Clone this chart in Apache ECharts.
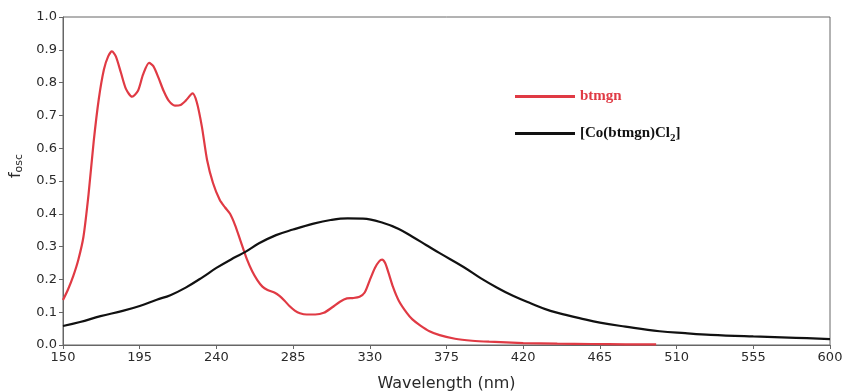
<!DOCTYPE html>
<html>
<head>
<meta charset="utf-8">
<script src="https://cdn.jsdelivr.net/npm/echarts@6/dist/echarts.min.js"></script>
<style>
  html, body { margin: 0; padding: 0; background: #fff; }
  #chart { width: 842px; height: 392px; }
</style>
</head>
<body>
<div id="chart"></div>
<script>
// wavelength (nm) and oscillator strength
const ligandX = [150, 153, 156, 159, 162, 165, 168, 171, 174, 176.5, 178.7, 181, 184, 187, 190.5, 194, 197, 200.5, 203, 206, 209, 212, 215.7, 219, 222, 226, 228.5, 231.5, 234.5, 238, 242, 245, 248, 251, 254, 258, 261, 264, 267, 270, 274, 277, 280, 283, 286, 289, 293, 298, 303, 308, 312.5, 316.6, 320, 324, 327, 330, 333, 335.5, 337.2, 339, 341, 343.6, 347, 351.8, 355, 359.5, 365, 371, 380, 390, 400, 420, 440, 460, 480, 498];
const ligandY = [0.137, 0.17, 0.21, 0.26, 0.33, 0.46, 0.62, 0.75, 0.84, 0.88, 0.895, 0.88, 0.83, 0.78, 0.757, 0.775, 0.825, 0.86, 0.85, 0.815, 0.775, 0.745, 0.73, 0.732, 0.745, 0.767, 0.74, 0.665, 0.565, 0.494, 0.442, 0.42, 0.40, 0.365, 0.32, 0.26, 0.225, 0.198, 0.178, 0.168, 0.16, 0.15, 0.135, 0.118, 0.105, 0.097, 0.093, 0.093, 0.098, 0.115, 0.132, 0.142, 0.143, 0.147, 0.16, 0.198, 0.235, 0.255, 0.26, 0.25, 0.22, 0.177, 0.135, 0.097, 0.078, 0.06, 0.042, 0.03, 0.019, 0.013, 0.01, 0.006, 0.004, 0.003, 0.002, 0.002];

const complexX = [150, 160, 172, 185, 195, 205, 213, 222, 232, 240, 250, 257, 265, 275, 285, 297, 307, 317, 326, 338, 347, 355, 363, 371, 385, 395, 405, 414, 424, 436, 445, 453, 465, 480, 500, 515, 530, 555, 580, 600];
const complexY = [0.058, 0.07, 0.088, 0.104, 0.119, 0.138, 0.152, 0.175, 0.207, 0.235, 0.265, 0.284, 0.31, 0.335, 0.352, 0.37, 0.381, 0.386, 0.385, 0.372, 0.354, 0.33, 0.305, 0.28, 0.238, 0.204, 0.174, 0.15, 0.128, 0.104, 0.092, 0.082, 0.068, 0.056, 0.042, 0.036, 0.031, 0.026, 0.022, 0.018];

const xTicks = [150, 195, 240, 285, 330, 375, 420, 465, 510, 555, 600];

const pairs = (xs, ys) => xs.map((x, i) => [x, ys[i]]);

const axisColor = '#666';
const labelColor = '#2a2a2a';

const option = {
  animation: false,
  grid: {
    left: 63, right: 12, top: 17, bottom: 47,
    outerBoundsMode: 'none',
    show: true, borderColor: axisColor, borderWidth: 1
  },
  legend: {
    orient: 'vertical',
    left: 510, top: 84,
    itemWidth: 60, itemHeight: 14, itemGap: 22,
    icon: 'path://M0,6 L60,6 L60,9 L0,9 Z',
    textStyle: {
      fontFamily: 'Liberation Serif', fontWeight: 'bold', fontSize: 15,
      rich: {
        a: { fontFamily: 'Liberation Serif', fontWeight: 'bold', fontSize: 15, color: '#111' },
        s: { fontFamily: 'Liberation Serif', fontWeight: 'bold', fontSize: 11, color: '#111', padding: [9, 0, 0, 0] }
      }
    },
    formatter: name => name === 'btmgn' ? name : '{a|[Co(btmgn)Cl}{s|2}{a|]}',
    data: [
      { name: 'btmgn', textStyle: { color: '#e03a44' } },
      { name: 'complex' }
    ]
  },
  xAxis: {
    type: 'value', min: 150, max: 600,
    name: 'Wavelength (nm)', nameLocation: 'middle', nameGap: 31,
    nameTextStyle: { fontFamily: 'DejaVu Sans', fontSize: 16, color: labelColor },
    axisLine: { lineStyle: { color: axisColor } },
    axisTick: { show: true, length: 4, lineStyle: { color: axisColor }, customValues: xTicks },
    axisLabel: { fontFamily: 'DejaVu Sans', fontSize: 13, color: labelColor, margin: 6, customValues: xTicks },
    splitLine: { show: false }
  },
  yAxis: {
    type: 'value', min: 0, max: 1, interval: 0.1,
    name: '{f|f}{s|osc}', nameLocation: 'middle', nameGap: 38, nameRotate: 90,
    nameTextStyle: {
      padding: [0, 0, 0, 30],
      rich: {
        f: { fontFamily: 'DejaVu Sans', fontSize: 16, color: labelColor },
        s: { fontFamily: 'DejaVu Sans', fontSize: 11, color: labelColor, padding: [8, 0, 0, 0] }
      }
    },
    axisLine: { show: true, lineStyle: { color: axisColor } },
    axisTick: { show: true, length: 4, lineStyle: { color: axisColor } },
    axisLabel: { fontFamily: 'DejaVu Sans', fontSize: 13, color: labelColor, margin: 6, formatter: v => v.toFixed(1) },
    splitLine: { show: false }
  },
  series: [
    {
      name: 'btmgn', type: 'line', smooth: 0.25, showSymbol: false,
      data: pairs(ligandX, ligandY),
      itemStyle: { color: '#e03a44' },
      lineStyle: { color: '#e03a44', width: 2.2 }
    },
    {
      name: 'complex', type: 'line', smooth: 0.4, showSymbol: false,
      data: pairs(complexX, complexY),
      itemStyle: { color: '#111' },
      lineStyle: { color: '#111', width: 2.2 }
    }
  ]
};

const myChart = echarts.init(document.getElementById('chart'), null, { renderer: 'canvas' });
myChart.setOption(option);
</script>
</body>
</html>
